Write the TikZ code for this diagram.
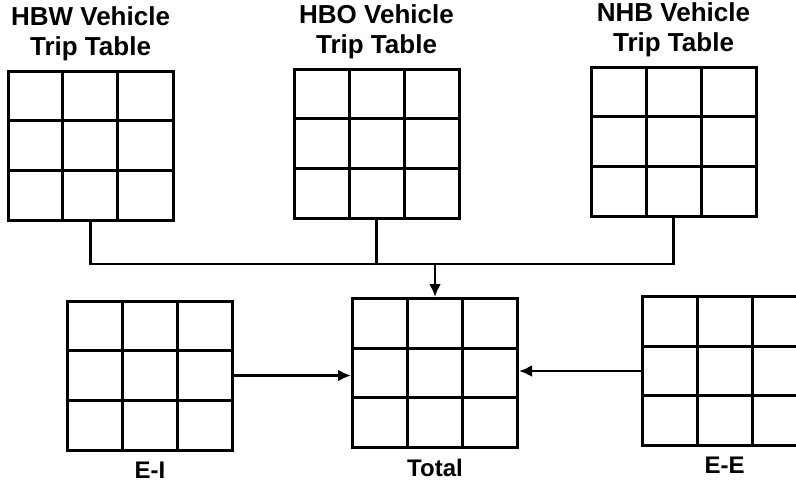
\documentclass[tikz,border=0pt]{standalone}
\usepackage{fontspec}
\setmainfont{Liberation Sans}
\usetikzlibrary{positioning,calc,arrows.meta}

\tikzset{
    tripgrid/.style={draw, line width=3pt, rectangle, inner sep=0pt,
        minimum width=165pt, minimum height=149pt,
        path picture={
            \foreach \f in {1,2} {
                \draw[line width=3pt]
                    ($(path picture bounding box.south west)!\f/3!(path picture bounding box.south east)$) --
                    ($(path picture bounding box.north west)!\f/3!(path picture bounding box.north east)$);
                \draw[line width=3pt]
                    ($(path picture bounding box.south west)!\f/3!(path picture bounding box.north west)$) --
                    ($(path picture bounding box.south east)!\f/3!(path picture bounding box.north east)$);
            }
        }},
    title/.style={align=center, inner sep=0pt, font=\fontsize{26}{30}\selectfont\bfseries},
    tag/.style={inner sep=0pt, font=\fontsize{24}{28}\selectfont\bfseries},
    link/.style={line width=2.6pt},
    flow/.style={line width=2.6pt, -{Latex[length=13pt,width=12pt]}}
}

\begin{document}
\begin{tikzpicture}[x=1pt, y=-1pt]
    \useasboundingbox (0,0) rectangle (796,482);
    \clip (0,0) rectangle (796,482);

    % Vehicle trip tables (top row)
    \node[tripgrid] (hbw) at (90.5,145.5) {};
    \node[tripgrid] (hbo) at (376.5,143.5) {};
    \node[tripgrid] (nhb) at (673.5,141.5) {};

    \node[title, above=8pt of hbw] (hbwtitle) {HBW Vehicle\\Trip Table};
    \node[title, above=8pt of hbo] (hbotitle) {HBO Vehicle\\Trip Table};
    \node[title, above=8pt of nhb] (nhbtitle) {NHB Vehicle\\Trip Table};

    % External tables and total (bottom row)
    \node[tripgrid] (ei) at (150,375.5) {};
    \node[tripgrid] (total) at (435,373) {};
    \node[tripgrid] (ee) at (724.5,371) {};

    \node[tag, below=10pt of ei] (eitag) {E-I};
    \node[tag, below=10pt of total] (totaltag) {Total};
    \node[tag, below=10pt of ee] (eetag) {E-E};

    % Collector line into the total table
    \coordinate (bus) at (435,264);
    \draw[link] (hbw.south) |- (nhb.south |- bus) -- (nhb.south);
    \draw[link] (hbo.south) -- (hbo.south |- bus);
    \draw[flow] (total.north |- bus) -- (total.north);

    % Side arrows
    \draw[flow] (ei.east) -- (ei.east -| total.west);
    \draw[flow] (ee.west) -- (ee.west -| total.east);
\end{tikzpicture}
\end{document}
